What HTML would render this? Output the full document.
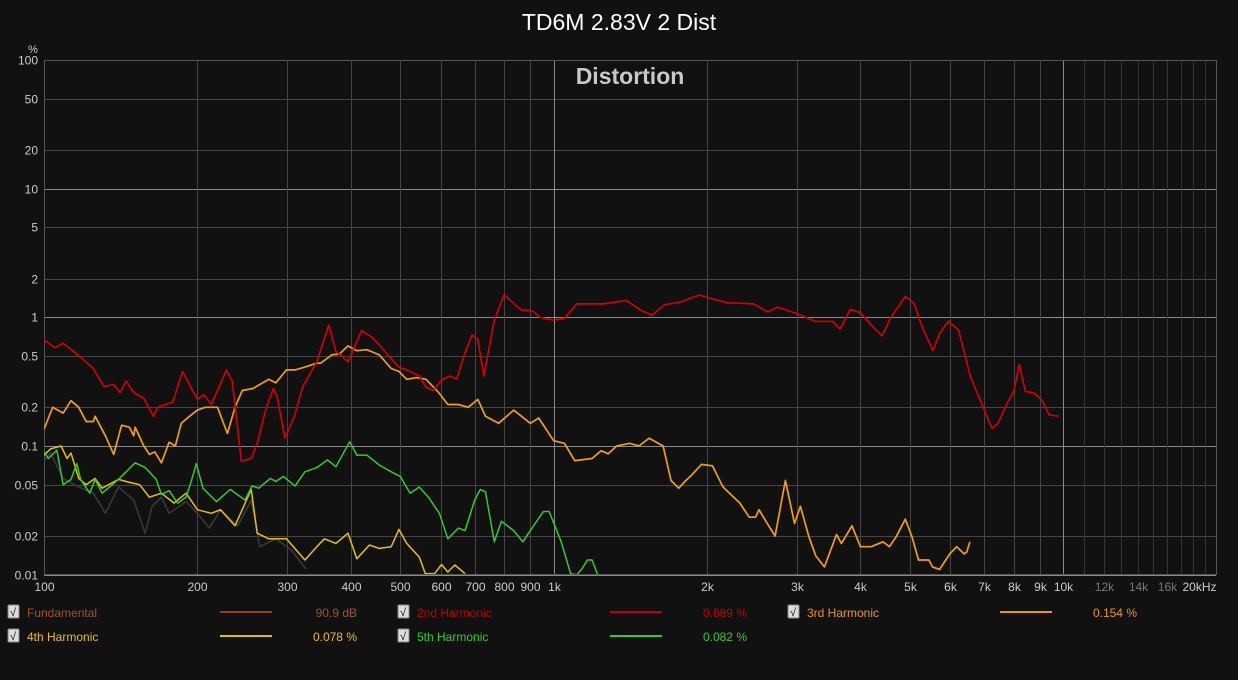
<!DOCTYPE html>
<html><head><meta charset="utf-8"><style>
html,body{margin:0;padding:0;background:#111;}
body{width:1238px;height:675px;overflow:hidden;font-family:"Liberation Sans",sans-serif;}
svg text{font-family:"Liberation Sans",sans-serif;}
</style></head><body>
<svg id="chart" width="1238" height="675" xmlns="http://www.w3.org/2000/svg">
<rect width="1238" height="675" fill="#111"/>
<text x="619" y="30" text-anchor="middle" fill="#fff" font-size="23">TD6M 2.83V 2 Dist</text>
<g id="grid"></g>
<g id="axes"></g>
<text x="630" y="84" text-anchor="middle" fill="#c8c8c8" font-size="23" font-weight="bold">Distortion</text>
<g id="series"></g>
<g id="legend"></g>
</svg>
<script>
const yTicks=[100,50,20,10,5,2,1,0.5,0.2,0.1,0.05,0.02,0.01];
const yMajor=[100,10,1,0.1,0.01];
const xTickVals=[100,200,300,400,500,600,700,800,900,1000,2000,3000,4000,5000,6000,7000,8000,9000,10000,12000,14000,16000,20000];
const xTickLabels=["100","200","300","400","500","600","700","800","900","1k","2k","3k","4k","5k","6k","7k","8k","9k","10k","12k","14k","16k","20kHz"];
const xMinorHi=[11000,13000,15000,17000,18000,19000];

const h2Freq=[100,105,109,118,125,131,137,141,145,150,157,164,167,179,187,200,206,213,219,228,234,244,255,262,273,282,287,297,310,322,343,362,374,382,395,420,440,455,475,497,515,545,560,580,605,627,645,670,692,710,730,765,800,835,865,910,940,1000,1050,1110,1250,1390,1480,1560,1650,1780,1930,2000,2180,2470,2630,2750,3000,3260,3530,3650,3820,4000,4200,4410,4600,4900,5100,5280,5550,5720,5950,6230,6570,7000,7250,7450,7760,8000,8200,8430,8740,9060,9380,9800];
const h2Val=[0.67,0.58,0.63,0.49,0.40,0.29,0.30,0.26,0.32,0.26,0.235,0.17,0.2,0.22,0.38,0.23,0.25,0.21,0.27,0.39,0.32,0.076,0.08,0.105,0.2,0.28,0.24,0.115,0.17,0.29,0.45,0.87,0.54,0.51,0.45,0.79,0.7,0.61,0.5,0.41,0.39,0.35,0.29,0.27,0.33,0.35,0.33,0.53,0.73,0.67,0.35,0.95,1.5,1.28,1.14,1.12,1.0,0.95,0.98,1.27,1.27,1.35,1.14,1.04,1.25,1.32,1.49,1.43,1.3,1.27,1.1,1.2,1.07,0.93,0.93,0.81,1.15,1.09,0.87,0.72,1.01,1.45,1.28,0.85,0.55,0.75,0.93,0.8,0.35,0.19,0.137,0.15,0.215,0.265,0.43,0.265,0.26,0.23,0.175,0.17];

const h3Freq=[100,104,109,113,117,121,125,126,132,137,142,147,150,151,157,161,165,170,176,181,186,193,200,207,219,229,237,245,257,276,285,299,311,325,343,349,367,380,395,411,430,455,480,497,515,538,562,595,620,650,680,710,735,780,835,900,935,1000,1050,1100,1190,1240,1280,1330,1410,1470,1540,1640,1700,1760,1810,1870,1950,2050,2150,2320,2420,2490,2530,2610,2720,2850,2970,3050,3170,3270,3400,3590,3670,3850,4000,4200,4430,4560,4700,4900,5050,5200,5450,5540,5720,5990,6180,6390,6470,6560];
const h3Val=[0.135,0.2,0.18,0.225,0.2,0.155,0.155,0.17,0.12,0.086,0.145,0.14,0.12,0.14,0.1,0.086,0.09,0.074,0.107,0.1,0.15,0.17,0.19,0.2,0.2,0.125,0.2,0.27,0.28,0.33,0.31,0.39,0.39,0.41,0.44,0.44,0.51,0.52,0.6,0.55,0.56,0.51,0.4,0.38,0.33,0.34,0.33,0.26,0.21,0.21,0.2,0.23,0.17,0.15,0.19,0.15,0.165,0.11,0.105,0.077,0.08,0.092,0.087,0.1,0.105,0.1,0.115,0.1,0.054,0.047,0.053,0.06,0.072,0.07,0.048,0.036,0.028,0.028,0.032,0.026,0.02,0.054,0.025,0.034,0.0197,0.014,0.0115,0.0205,0.0175,0.024,0.0165,0.0165,0.018,0.0165,0.0197,0.027,0.0197,0.013,0.013,0.0115,0.011,0.0145,0.0165,0.0145,0.015,0.018];

const h4Freq=[100,103,108,111,113,117,121,126,130,140,145,154,161,170,180,190,200,213,222,237,255,262,276,299,325,343,355,374,395,411,435,455,480,497,515,545,560,584,603,620,640,670];
const h4Val=[0.085,0.095,0.1,0.08,0.088,0.056,0.05,0.056,0.047,0.055,0.053,0.05,0.04,0.043,0.036,0.043,0.032,0.03,0.032,0.024,0.046,0.021,0.019,0.019,0.013,0.0165,0.019,0.0175,0.021,0.0133,0.017,0.016,0.0165,0.0225,0.0175,0.0137,0.0102,0.0102,0.012,0.0105,0.0119,0.0102];

const h5Freq=[100,102,106,109,113,116,118,123,126,130,140,145,151,158,166,170,176,183,190,195,199,205,218,232,248,256,264,278,285,295,311,325,343,360,374,398,411,430,455,480,500,523,545,568,597,620,650,670,700,718,735,765,790,835,870,920,955,980,1035,1080,1110,1135,1165,1190,1220];
const h5Val=[0.09,0.08,0.093,0.05,0.055,0.073,0.055,0.043,0.055,0.043,0.055,0.063,0.074,0.068,0.055,0.042,0.045,0.036,0.04,0.055,0.073,0.047,0.037,0.046,0.038,0.049,0.047,0.056,0.053,0.058,0.049,0.063,0.068,0.078,0.069,0.108,0.085,0.085,0.071,0.063,0.058,0.043,0.048,0.04,0.03,0.019,0.023,0.022,0.038,0.046,0.044,0.018,0.026,0.022,0.018,0.025,0.031,0.031,0.018,0.0102,0.01,0.011,0.013,0.013,0.01];

const noiseFreq=[100,103,109,117,125,132,140,150,158,163,170,176,190,200,211,222,240,255,265,285,306,327];
const noiseVal=[0.076,0.088,0.056,0.048,0.043,0.03,0.048,0.038,0.021,0.034,0.04,0.03,0.037,0.03,0.023,0.032,0.024,0.038,0.0165,0.019,0.0155,0.011];

const legendNames=["Fundamental","2nd Harmonic","3rd Harmonic","4th Harmonic","5th Harmonic"];
const legendValues=["90.9 dB","0.689 %","0.154 %","0.078 %","0.082 %"];

const L=44,R=1216,T=60,B=574;
const xs=f=>L+509.6*Math.log10(f/100);
const ys=v=>317.3-128.7*Math.log10(v);
const NS="http://www.w3.org/2000/svg";
function mk(tag,attrs,parent){const e=document.createElementNS(NS,tag);for(const k in attrs)e.setAttribute(k,attrs[k]);parent.appendChild(e);return e;}
const grid=document.getElementById('grid'),axes=document.getElementById('axes'),series=document.getElementById('series'),legend=document.getElementById('legend');

yTicks.forEach(v=>{
  const y=Math.round(ys(v))+0.5;
  const ln=mk('line',{x1:L,x2:R,y1:y,y2:y,stroke:yMajor.includes(v)?'#8a8a8a':'#444','stroke-width':1},grid);
  
  
  const t=mk('text',{x:38,y:y+4,'text-anchor':'end',fill:'#ccc','font-size':12},axes);
  t.textContent=String(v);
  
  
});
const yu=mk('text',{x:33,y:53,'text-anchor':'middle',fill:'#ccc','font-size':11},axes);
yu.textContent='%';



xMinorHi.forEach(f=>{
  const x=Math.round(xs(f))+0.5;
  const ln=mk('line',{x1:x,x2:x,y1:T,y2:B,stroke:'#333','stroke-width':1},grid);
  
  
});
xTickVals.forEach((f,i)=>{
  const x=Math.round(xs(f))+0.5;
  const major=(f===1000||f===10000);
  const hi=f>10000;
  if(f!==100&&f!==20000){
    const ln=mk('line',{x1:x,x2:x,y1:T,y2:B,stroke:major?'#8a8a8a':(hi?'#333':'#444'),'stroke-width':1},grid);
    
    
  }
  const lab=xTickLabels[i];
  const t=mk('text',{x:f===20000?x-18:x,y:591,'text-anchor':'middle',fill:(hi&&f!==20000)?'#777':'#ccc','font-size':12},axes);
  t.textContent=lab;
  
  
});
const fr=mk('rect',{x:L+0.5,y:T+0.5,width:R-L,height:B-T,fill:'none',stroke:'#555','stroke-width':1},grid);



function drawSeries(fa,va,color,name,width){
  const pts=fa.map((f,i)=>xs(f).toFixed(1)+','+ys(va[i]).toFixed(1)).join(' ');
  const p=mk('polyline',{points:pts,fill:'none',stroke:color,'stroke-width':width,'stroke-linejoin':'round'},series);
  
  
}
const cp=mk('clipPath',{id:'pc'},document.getElementById('chart'));
mk('rect',{x:L,y:T,width:R-L,height:B-T},cp);
series.setAttribute('clip-path','url(#pc)');
drawSeries(noiseFreq,noiseVal,'#3a3a3a','noise-floor-line',1.5);
drawSeries(h4Freq,h4Val,'#e8c000','harmonic-4-line',1.5);
drawSeries(h5Freq,h5Val,'#2ecc2e','harmonic-5-line',1.5);
drawSeries(h3Freq,h3Val,'#f0a000','harmonic-3-line',1.7);
drawSeries(h2Freq,h2Val,'#d00000','harmonic-2-line',1.7);

const legColors=['#8b4513','#c00000','#e89a00','#e8c000','#2ecc2e'];
const legTextColors=['#a0522d','#c00000','#e89a00','#e8c000','#2ecc2e'];
legendNames.forEach((n,i)=>{
  const col=i<3?i:i-3, row=i<3?0:1;
  const x0=8+col*390, y0=612+row*24;
  const g=mk('g',{},legend);
  
  
  const cb=mk('rect',{x:x0,y:y0-7,width:11,height:13,fill:'#ddd',stroke:'#888',rx:1},g);
  
  
  const ck=mk('text',{x:x0+2,y:y0+4,fill:'#111','font-size':11},g);
  ck.textContent='√';
  const t=mk('text',{x:x0+19,y:y0+5,fill:legTextColors[i],'font-size':12},g);
  t.textContent=n;
  const sw=mk('line',{x1:x0+212,x2:x0+264,y1:y0,y2:y0,stroke:legColors[i],'stroke-width':2},g);
  
  
  const v=mk('text',{x:x0+349,y:y0+5,'text-anchor':'end',fill:legTextColors[i],'font-size':12},g);
  v.textContent=legendValues[i];
});
</script>
</body></html>
